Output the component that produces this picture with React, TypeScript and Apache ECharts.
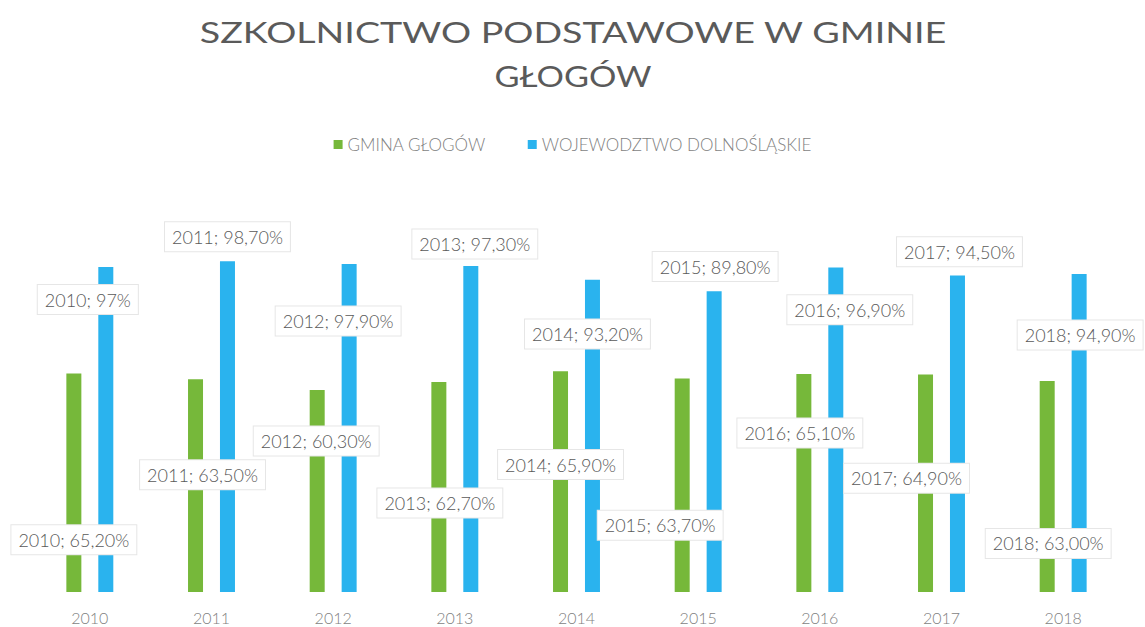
import React, { useEffect, useRef } from "react";
import * as echarts from "echarts";

const years = ["2010", "2011", "2012", "2013", "2014", "2015", "2016", "2017", "2018"];
const gminaValues = [65.2, 63.5, 60.3, 62.7, 65.9, 63.7, 65.1, 64.9, 63.0];
const wojValues = [97, 98.7, 97.9, 97.3, 93.2, 89.8, 96.9, 94.5, 94.9];
const gminaText = ["65,20", "63,50", "60,30", "62,70", "65,90", "63,70", "65,10", "64,90", "63,00"];
const wojText = ["97", "98,70", "97,90", "97,30", "93,20", "89,80", "96,90", "94,50", "94,90"];
const seriesNames = ["GMINA GŁOGÓW", "WOJEWODZTWO DOLNOŚLĄSKIE"];
const titleLines = ["SZKOLNICTWO PODSTAWOWE W GMINIE", "GŁOGÓW"];

// label callout offsets (layout only), relative to bar centre
const gminaLabelShift = [[0, 57], [7, -11], [-1, -50], [1, 16], [0, -17], [-22, 40], [-4, -50], [-19, -5], [1, 57]];
const wojLabelShift = [[-18, -130], [0, -190], [-11, -107], [4, -185], [-5, -102], [1, -175], [14, -120], [2, -182], [1, -98]];

const FONT = "Lato, 'Open Sans', sans-serif";

function measure(text: string, size: number, weight: number): number {
  const c = document.createElement("canvas").getContext("2d");
  if (!c) return text.length * size * 0.6;
  c.font = `${weight} ${size}px Lato`;
  return c.measureText(text).width;
}

export default function App() {
  const ref = useRef<HTMLDivElement>(null);
  useEffect(() => {
    if (!ref.current) return;
    const chart = echarts.init(ref.current, null, { renderer: "svg" });
    const titleSize = 28;
    const titleWeight = 400;
    const targetW = [748, 157];
    const titleCenters = [32, 76];
    const titleGraphics = titleLines.map((t, i) => {
      const w = measure(t, titleSize, titleWeight);
      const sx = targetW[i] / w;
      return {
        type: "text",
        x: 573,
        y: titleCenters[i],
        scaleX: sx,
        style: {
          text: t,
          fill: "#5a5a5a",
          font: `${titleWeight} ${titleSize}px Lato`,
          align: "center",
          verticalAlign: "middle",
        },
      };
    });

    const labelStyle = {
      show: true,
      position: "inside",
      color: "#595959",
      fontSize: 18,
      fontWeight: 300,
      fontFamily: FONT,
      backgroundColor: "#ffffff",
      borderColor: "#e6e6e6",
      borderWidth: 1,
      padding: [6, 7, 5, 7],
    };

    chart.setOption({
      animation: false,
      backgroundColor: "#ffffff",
      graphic: titleGraphics,
      legend: {
        top: 131,
        left: "center",
        itemWidth: 9,
        itemHeight: 9,
        itemGap: 42,
        icon: "rect",
        textStyle: { color: "#7f7f7f", fontSize: 17, fontWeight: 300, fontFamily: FONT },
        data: seriesNames,
      },
      grid: { left: 29, right: 21, top: 257, bottom: 35 },
      xAxis: {
        type: "category",
        data: years,
        axisLine: { show: false },
        axisTick: { show: false },
        axisLabel: {
          color: "#7f7f7f",
          fontSize: 16,
          fontWeight: 300,
          lineHeight: 16,
          fontFamily: FONT,
          margin: 17,
        },
      },
      yAxis: { type: "value", min: 0, max: 100, show: false, splitLine: { show: false } },
      series: [
        {
          name: seriesNames[0],
          type: "bar",
          data: gminaValues,
          barWidth: 15,
          barGap: "113%",
          itemStyle: { color: "#76b83a" },
          label: {
            ...labelStyle,
            formatter: (p: any) => `${years[p.dataIndex]}; ${gminaText[p.dataIndex]}%`,
          },
          labelLine: { show: true, lineStyle: { color: "#ffffff", width: 5 } },
          labelLayout: (p: any) => ({ dx: gminaLabelShift[p.dataIndex][0], dy: gminaLabelShift[p.dataIndex][1] }),
        },
        {
          name: seriesNames[1],
          type: "bar",
          data: wojValues,
          barWidth: 15,
          itemStyle: { color: "#2ab3ee" },
          label: {
            ...labelStyle,
            formatter: (p: any) => `${years[p.dataIndex]}; ${wojText[p.dataIndex]}%`,
          },
          labelLine: { show: true, lineStyle: { color: "#ffffff", width: 5 } },
          labelLayout: (p: any) => ({ dx: wojLabelShift[p.dataIndex][0], dy: wojLabelShift[p.dataIndex][1] }),
        },
      ],
    });
    return () => chart.dispose();
  }, []);
  return (
    <div
      ref={ref}
      style={{ position: "absolute", left: 0, top: 0, width: 1145, height: 627, background: "#fff" }}
    />
  );
}
